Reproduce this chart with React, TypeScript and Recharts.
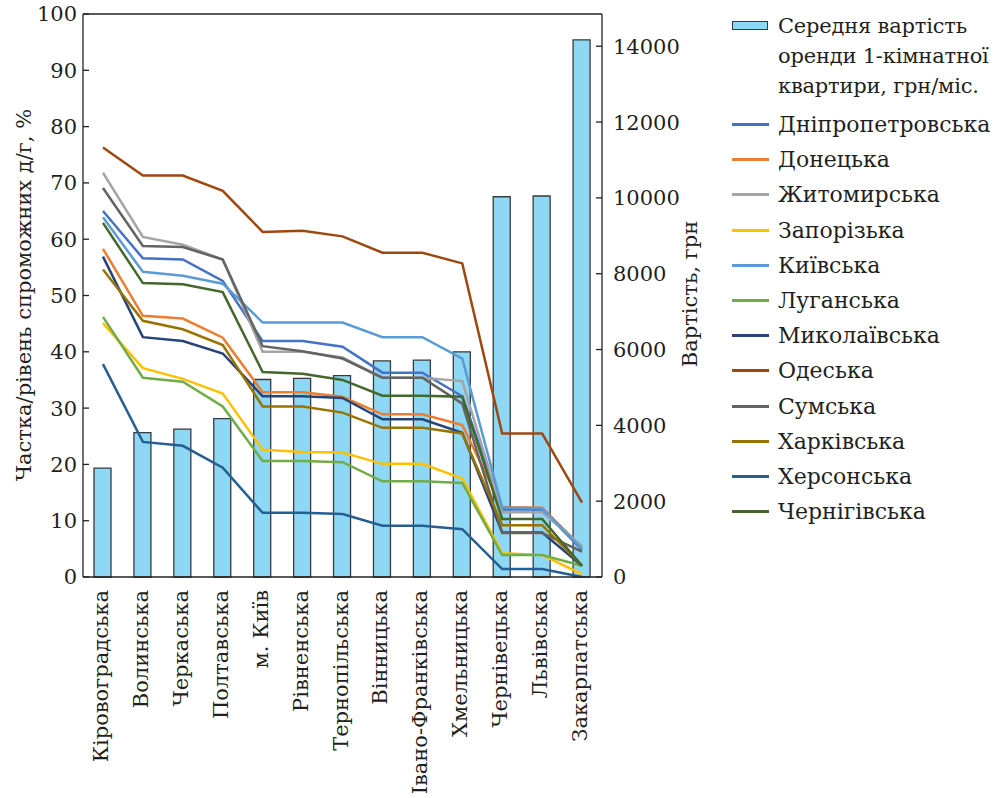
import React from "react";
import {
  ComposedChart,
  Bar,
  Line,
  XAxis,
  YAxis,
  ReferenceLine,
} from "recharts";

const regions = [
  "Кіровоградська",
  "Волинська",
  "Черкаська",
  "Полтавська",
  "м. Київ",
  "Рівненська",
  "Тернопільська",
  "Вінницька",
  "Івано-Франківська",
  "Хмельницька",
  "Чернівецька",
  "Львівська",
  "Закарпатська",
];

// середня вартість оренди, грн/міс.
const rent = [2870, 3810, 3900, 4180, 5210, 5240, 5310, 5700, 5720, 5940, 10030, 10050, 14170];

const dnipro = [65.0, 56.6, 56.4, 52.6, 41.9, 41.9, 40.9, 36.3, 36.3, 32.1, 12.0, 12.0, 4.8];
const donetsk = [58.3, 46.4, 45.9, 42.5, 32.8, 32.8, 32.0, 28.9, 28.9, 27.0, 12.4, 12.3, 5.2];
const zhytomyr = [71.8, 60.4, 59.0, 56.4, 40.0, 40.0, 39.0, 35.4, 35.4, 34.8, 11.5, 11.5, 5.5];
const zaporizhzhia = [45.1, 37.1, 35.2, 32.6, 22.6, 22.2, 22.1, 20.1, 20.1, 17.5, 4.2, 3.9, 0.5];
const kyivska = [63.9, 54.2, 53.5, 52.1, 45.2, 45.2, 45.2, 42.6, 42.6, 38.8, 12.3, 12.2, 5.0];
const luhansk = [46.2, 35.4, 34.7, 30.3, 20.6, 20.6, 20.4, 17.0, 17.0, 16.7, 3.9, 3.9, 2.0];
const mykolaiv = [56.9, 42.6, 41.9, 39.7, 32.1, 32.1, 31.8, 28.0, 28.0, 25.6, 7.9, 7.9, 2.0];
const odesa = [76.3, 71.3, 71.3, 68.6, 61.3, 61.5, 60.5, 57.6, 57.6, 55.7, 25.5, 25.5, 13.2];
const sumy = [69.1, 58.8, 58.6, 56.4, 41.0, 40.1, 38.8, 35.4, 35.4, 30.8, 7.8, 7.8, 4.5];
const kharkiv = [54.6, 45.5, 44.0, 41.2, 30.3, 30.3, 29.2, 26.5, 26.5, 25.5, 9.2, 9.2, 2.0];
const kherson = [37.8, 24.0, 23.3, 19.4, 11.4, 11.4, 11.2, 9.1, 9.1, 8.5, 1.4, 1.4, 0];
const chernihiv = [62.9, 52.2, 52.0, 50.6, 36.4, 36.1, 35.0, 32.2, 32.2, 32.0, 10.3, 10.3, 2.0];

const leftTicks = [0, 10, 20, 30, 40, 50, 60, 70, 80, 90, 100];
const rightTicks = [0, 2000, 4000, 6000, 8000, 10000, 12000, 14000];

const series = [
  { key: "Дніпропетровська", values: dnipro, color: "#4472c4" },
  { key: "Донецька", values: donetsk, color: "#ed7d31" },
  { key: "Житомирська", values: zhytomyr, color: "#a5a5a5" },
  { key: "Запорізька", values: zaporizhzhia, color: "#ffc000" },
  { key: "Київська", values: kyivska, color: "#5b9bd5" },
  { key: "Луганська", values: luhansk, color: "#70ad47" },
  { key: "Миколаївська", values: mykolaiv, color: "#264478" },
  { key: "Одеська", values: odesa, color: "#9e480e" },
  { key: "Сумська", values: sumy, color: "#636363" },
  { key: "Харківська", values: kharkiv, color: "#997300" },
  { key: "Херсонська", values: kherson, color: "#255e91" },
  { key: "Чернігівська", values: chernihiv, color: "#43682b" },
];

const barName = "Середня вартість оренди 1-кімнатної квартири, грн/міс.";
const barColor = "#8ed8f5";

const data = regions.map((name, i) => {
  const row: Record<string, number | string> = { name, rent: rent[i] };
  series.forEach((s) => {
    row[s.key] = s.values[i];
  });
  return row;
});

const font = '"DejaVu Serif", "Liberation Serif", serif';
const ink = "#231f20";
const fs = 21;
const tickStyle = { fontSize: fs, fill: ink, fontFamily: font };

const CategoryTick = (props: any) => {
  const { x, y, payload } = props;
  return (
    <text
      x={x}
      y={y}
      transform={`rotate(-90, ${x}, ${y})`}
      textAnchor="end"
      dy={5}
      fontFamily={font}
      fontSize={fs}
      fill={ink}
    >
      {payload.value}
    </text>
  );
};

const AxisTitle = ({ cx, cy, text }: { cx: number; cy: number; text: string }) => (
  <text
    x={cx}
    y={cy}
    transform={`rotate(-90, ${cx}, ${cy})`}
    textAnchor="middle"
    dominantBaseline="central"
    fontFamily={font}
    fontSize={fs}
    fill={ink}
  >
    {text}
  </text>
);

export default function App() {
  return (
    <div style={{ position: "absolute", left: 0, top: 0, width: 1000, height: 798, background: "#fff", fontFamily: font }}>
      <ComposedChart
        width={1000}
        height={798}
        data={data}
        margin={{ top: 14, right: 0, bottom: 0, left: 0 }}
      >
        <XAxis
          dataKey="name"
          interval={0}
          height={221}
          tick={<CategoryTick />}
          tickLine={false}
          tickSize={0}
          tickMargin={13}
          stroke="#222"
          strokeWidth={1.3}
        />
        <YAxis
          yAxisId="left"
          orientation="left"
          width={83}
          domain={[0, 100]}
          ticks={leftTicks}
          tick={tickStyle}
          tickSize={-6}
          tickMargin={12}
          stroke="#222"
          strokeWidth={1.3}
          label={<AxisTitle cx={24} cy={295} text="Частка/рівень спроможних д/г, %" />}
        />
        <YAxis
          yAxisId="right"
          orientation="right"
          width={398}
          domain={[0, 14850]}
          ticks={rightTicks}
          tick={tickStyle}
          tickSize={-6}
          tickMargin={17}
          stroke="#222"
          strokeWidth={1.3}
          label={<AxisTitle cx={690} cy={294} text="Вартість, грн" />}
        />
        <ReferenceLine yAxisId="left" y={100} stroke="#222" strokeWidth={1.3} />
        <Bar
          yAxisId="right"
          dataKey="rent"
          name={barName}
          fill={barColor}
          stroke="#3a3a3a"
          strokeWidth={1.3}
          barSize={17}
          isAnimationActive={false}
        />
        {series.map((s) => (
          <Line
            key={s.key}
            yAxisId="left"
            type="linear"
            dataKey={s.key}
            stroke={s.color}
            strokeWidth={2.5}
            dot={false}
            activeDot={false}
            isAnimationActive={false}
          />
        ))}
      </ComposedChart>

      <div
        style={{
          position: "absolute",
          left: 732,
          top: 11,
          fontFamily: font,
          fontSize: 22,
          color: ink,
          whiteSpace: "nowrap",
        }}
      >
        <div style={{ display: "flex", alignItems: "flex-start" }}>
          <div
            style={{
              width: 36,
              height: 9,
              marginTop: 10,
              background: barColor,
              border: "1.5px solid #3a3a3a",
              boxSizing: "border-box",
            }}
          />
          <div style={{ marginLeft: 10, lineHeight: "30px", fontSize: 21, letterSpacing: -0.2 }}>
            Середня вартість
            <br />
            оренди 1-кімнатної
            <br />
            квартири, грн/міс.
          </div>
        </div>
        <div style={{ marginTop: 6 }}>
          {series.map((s) => (
            <div key={s.key} style={{ display: "flex", alignItems: "center", height: 35.2 }}>
              <div style={{ width: 37, height: 3, background: s.color }} />
              <div style={{ marginLeft: 9 }}>{s.key}</div>
            </div>
          ))}
        </div>
      </div>
    </div>
  );
}
